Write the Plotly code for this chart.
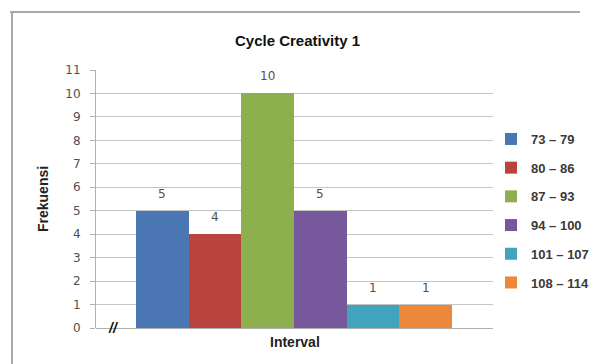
import plotly.graph_objects as go

# Frequency of each score interval
intervals = ["73 \u2013 79", "80 \u2013 86", "87 \u2013 93",
             "94 \u2013 100", "101 \u2013 107", "108 \u2013 114"]
frekuensi = [5, 4, 10, 5, 1, 1]
colors = ["#4a76b4", "#b8433f", "#8db04f", "#77589c", "#42a3bd", "#ec883b"]
y_ticks = list(range(0, 12))

W, H = 595, 364
L, R, T, B = 96, 102, 70, 36
plot_w = W - L - R
plot_h = H - T - B

def px_x(px):
    return (px - L) / plot_w

def px_y(py):
    return (H - B - py) / plot_h

NUM_FONT = dict(family="DejaVu Sans", size=12, color="#505050")
BOLD_FONT = "Liberation Sans, Arial"

fig = go.Figure()
for i, (name, val, col) in enumerate(zip(intervals, frekuensi, colors)):
    fig.add_trace(go.Bar(
        x=[i], y=[val], width=1, name=name, legendgroup=name,
        marker=dict(color=col, line=dict(width=0)),
        hoverinfo="name+y",
    ))

annotations = []
for i, val in enumerate(frekuensi):
    annotations.append(dict(
        x=i, y=val, xref="x", yref="y", text=str(val), showarrow=False,
        yanchor="bottom", yshift=8, font=NUM_FONT,
    ))

# axis titles and the axis-break mark
annotations += [
    dict(x=0, y=0.5, xref="paper", yref="paper", text="<b>Frekuensi</b>",
         textangle=-90, showarrow=False, xanchor="center", yanchor="middle",
         xshift=-(L - 43), font=dict(family=BOLD_FONT, size=14, color="#222")),
    dict(x=0.5, y=0, xref="paper", yref="paper", text="<b>Interval</b>",
         showarrow=False, xanchor="center", yanchor="middle", yshift=-14,
         font=dict(family=BOLD_FONT, size=14, color="#222")),
    dict(x=px_x(113), y=0, xref="paper", yref="paper", text="<b><i>//</i></b>",
         showarrow=False, xanchor="center", yanchor="middle",
         font=dict(family=BOLD_FONT, size=14, color="#111")),
]

# outer frame lines (top and left)
frame = dict(color="#a9a9a9", width=2)
shapes = [
    dict(type="line", xref="paper", yref="paper",
         x0=px_x(10), x1=px_x(580), y0=px_y(12), y1=px_y(12), line=frame),
    dict(type="line", xref="paper", yref="paper",
         x0=px_x(12), x1=px_x(12), y0=px_y(12), y1=px_y(H), line=frame),
]

fig.update_layout(
    width=W, height=H,
    margin=dict(l=L, r=R, t=T, b=B, autoexpand=False),
    paper_bgcolor="white", plot_bgcolor="white",
    barmode="overlay", bargap=0,
    title=dict(text="<b>Cycle Creativity 1</b>", xref="container", x=0.5,
               y=1 - 41 / H, yref="container", xanchor="center", yanchor="middle",
               font=dict(family=BOLD_FONT, size=15, color="#111")),
    xaxis=dict(range=[-1.26, 6.28], showticklabels=False, showgrid=False,
               zeroline=False, showline=False, ticks=""),
    yaxis=dict(range=[0, 11], tickvals=y_ticks, showgrid=True, gridcolor="#c4c4c4",
               gridwidth=1, zeroline=True, zerolinecolor="#b0b0b0", zerolinewidth=1,
               showline=True, linecolor="#b0b0b0", linewidth=1,
               ticks="outside", ticklen=5, tickcolor="#b0b0b0",
               ticklabelstandoff=7, tickfont=NUM_FONT),
    showlegend=True,
    legend=dict(x=px_x(491), y=px_y(124), xanchor="left", yanchor="top",
                traceorder="grouped", tracegroupgap=8.8, itemwidth=30,
                bgcolor="rgba(0,0,0,0)",
                font=dict(family=BOLD_FONT, size=13, color="#3a3a3a", weight="bold")),
    annotations=annotations,
    shapes=shapes,
)

fig.write_html("out.html")
